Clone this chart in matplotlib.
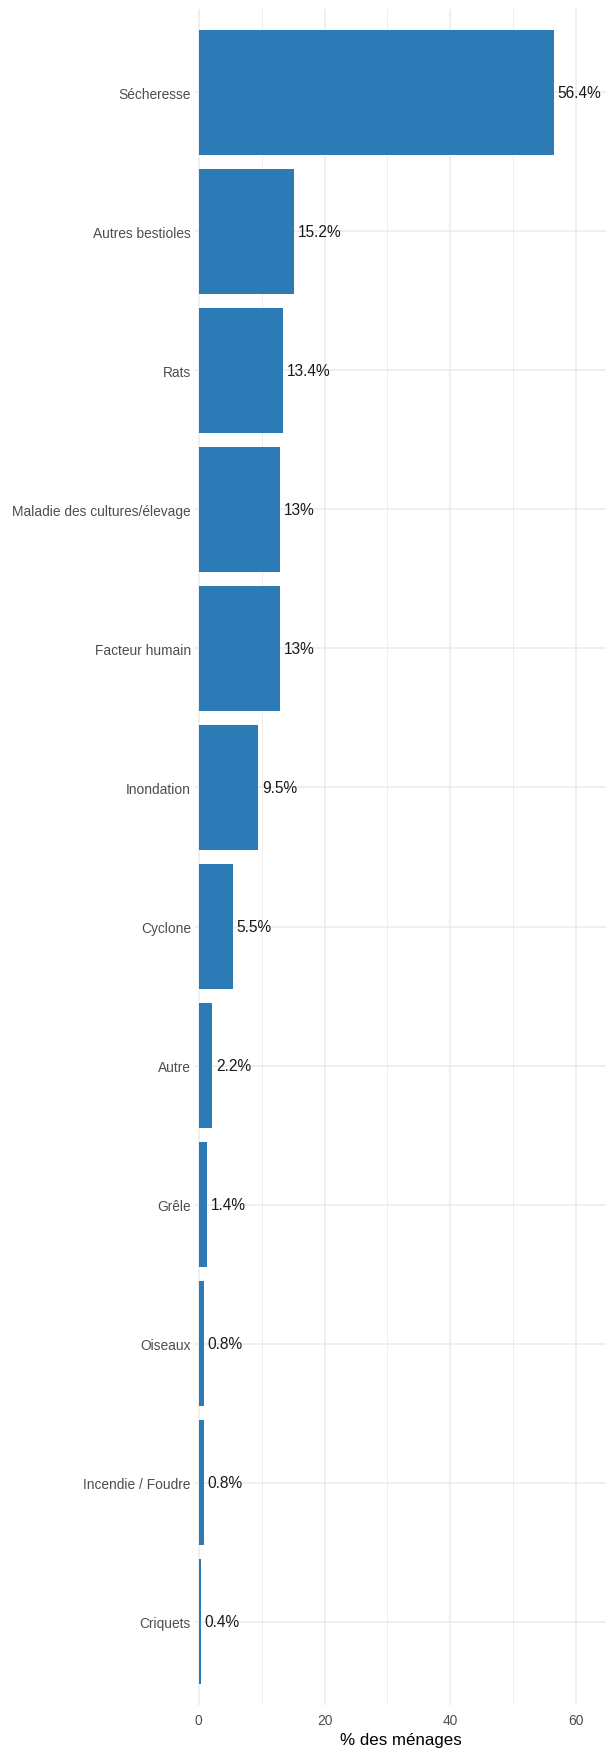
import matplotlib.pyplot as plt
from matplotlib.ticker import MultipleLocator

plt.rcParams['font.family'] = ['Liberation Sans', 'DejaVu Sans']

# --- Data (top to bottom) ---
categories = ['Sécheresse', 'Autres bestioles', 'Rats',
              'Maladie des cultures/élevage', 'Facteur humain', 'Inondation',
              'Cyclone', 'Autre', 'Grêle', 'Oiseaux', 'Incendie / Foudre',
              'Criquets']
values = [56.4, 15.2, 13.4, 13.0, 13.0, 9.5, 5.5, 2.2, 1.4, 0.8, 0.8, 0.4]
x_ticks = [0, 20, 40, 60]

bar_color = '#2C7BB6'
grid_color = '#EBEBEB'

fig = plt.figure(figsize=(6.08, 17.49), dpi=100)
ax = fig.add_axes([195 / 608, 43 / 1749, 411 / 608, 1696 / 1749])

n = len(categories)
ypos = [n - 1 - i for i in range(n)]

ax.barh(ypos, values, height=0.9, color=bar_color, linewidth=0, zorder=2)
for y, v in zip(ypos, values):
    ax.text(v + 0.55, y, f'{v:g}%', va='center', ha='left',
            fontsize=11.2, color='#1A1A1A', zorder=3)

ax.set_xlim(-0.57, 64.7)
ax.set_ylim(-0.6, n - 0.4)
ax.set_yticks(ypos)
ax.set_yticklabels(categories)
ax.set_xticks(x_ticks)
ax.xaxis.set_minor_locator(MultipleLocator(10))

ax.grid(True, which='major', color=grid_color, linewidth=1.1, zorder=0)
ax.grid(True, which='minor', axis='x', color=grid_color, linewidth=0.6, zorder=0)
ax.set_axisbelow(True)
for s in ax.spines.values():
    s.set_visible(False)

ax.tick_params(axis='both', which='both', length=0, labelsize=9.95,
               labelcolor='#4D4D4D')
ax.tick_params(axis='y', pad=3)
ax.tick_params(axis='x', pad=5.5)
ax.set_xlabel('% des ménages', fontsize=12.2, color='black', labelpad=4)

fig.savefig('out.png', dpi=100)
